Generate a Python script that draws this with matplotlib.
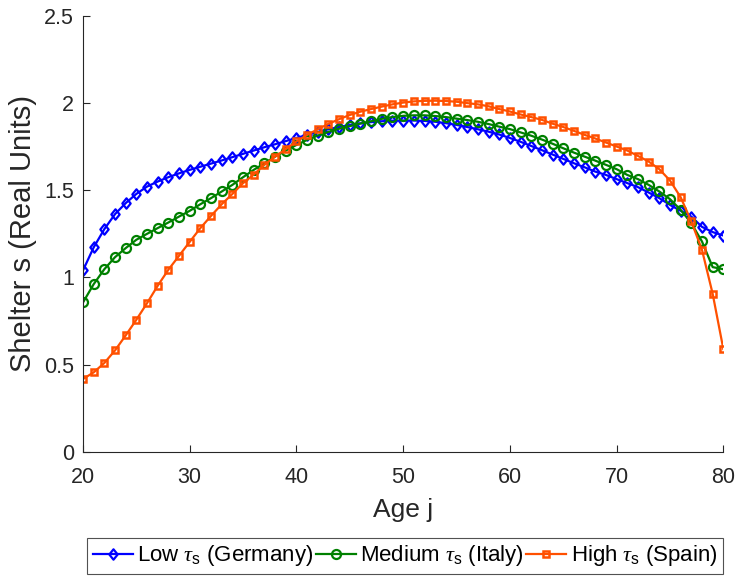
import matplotlib
matplotlib.use("Agg")
import matplotlib.pyplot as plt
from matplotlib.path import Path
import numpy as np

plt.rcParams['font.family'] = ['Liberation Sans', 'DejaVu Sans']
plt.rcParams['mathtext.fontset'] = 'custom'
plt.rcParams['mathtext.rm'] = 'Liberation Sans'
plt.rcParams['mathtext.it'] = 'Liberation Serif:italic'
plt.rcParams['mathtext.sf'] = 'Liberation Sans'

ages = list(range(20, 81))

germany = [1.040, 1.172, 1.277, 1.363, 1.426, 1.479, 1.521, 1.550, 1.575, 1.597,
           1.617, 1.635, 1.653, 1.671, 1.690, 1.709, 1.728, 1.747, 1.764, 1.782,
           1.800, 1.818, 1.834, 1.850, 1.863, 1.875, 1.884, 1.891, 1.896, 1.899,
           1.900, 1.900, 1.898, 1.893, 1.885, 1.875, 1.863, 1.850, 1.836, 1.820,
           1.800, 1.778, 1.754, 1.730, 1.705, 1.680, 1.655, 1.632, 1.607, 1.588,
           1.564, 1.541, 1.518, 1.487, 1.455, 1.416, 1.382, 1.349, 1.290, 1.260,
           1.240]

italy = [0.856, 0.961, 1.047, 1.116, 1.168, 1.216, 1.250, 1.283, 1.315, 1.349,
         1.382, 1.420, 1.455, 1.493, 1.531, 1.575, 1.617, 1.655, 1.693, 1.728,
         1.760, 1.789, 1.814, 1.835, 1.853, 1.868, 1.883, 1.896, 1.910, 1.920,
         1.927, 1.930, 1.930, 1.926, 1.920, 1.911, 1.903, 1.893, 1.880, 1.865,
         1.851, 1.832, 1.813, 1.791, 1.767, 1.741, 1.716, 1.693, 1.670, 1.646,
         1.621, 1.588, 1.564, 1.531, 1.493, 1.449, 1.388, 1.311, 1.206, 1.059,
         1.047]

spain = [0.417, 0.455, 0.509, 0.581, 0.667, 0.757, 0.852, 0.952, 1.044, 1.124,
         1.204, 1.283, 1.353, 1.420, 1.479, 1.541, 1.590, 1.646, 1.693, 1.736,
         1.780, 1.818, 1.850, 1.881, 1.908, 1.932, 1.951, 1.966, 1.980, 1.993,
         2.003, 2.010, 2.013, 2.014, 2.012, 2.008, 2.000, 1.993, 1.982, 1.966,
         1.952, 1.935, 1.920, 1.904, 1.882, 1.863, 1.841, 1.818, 1.797, 1.774,
         1.751, 1.728, 1.697, 1.665, 1.621, 1.556, 1.460, 1.321, 1.158, 0.906,
         0.589]

labels = [r'Low $\tau_{\mathrm{s}}$ (Germany)',
          r'Medium $\tau_{\mathrm{s}}$ (Italy)',
          r'High $\tau_{\mathrm{s}}$ (Spain)']

xticks = [20, 30, 40, 50, 60, 70, 80]
yticks = [0, 0.5, 1, 1.5, 2, 2.5]
yticklabels = ['0', '0.5', '1', '1.5', '2', '2.5']

# MATLAB-like diamond (slightly taller than wide)
diamond = Path([(0, 1), (0.8, 0), (0, -1), (-0.8, 0), (0, 1)],
               [Path.MOVETO, Path.LINETO, Path.LINETO, Path.LINETO, Path.CLOSEPOLY])

fig = plt.figure(figsize=(7.39, 5.77), dpi=100)
ax = fig.add_axes([0.1123, 0.2172, 0.8665, 0.7551])

ax.plot(ages, germany, color='#0000FF', lw=1.6, marker=diamond, ms=7.5,
        mfc='none', mew=1.6, label=labels[0])
ax.plot(ages, italy, color='#008000', lw=1.6, marker='o', ms=6.5,
        mfc='none', mew=1.6, label=labels[1])
ax.plot(ages, spain, color='#FF5000', lw=1.6, marker='s', ms=4.0,
        mfc='none', mew=1.8, label=labels[2])

ax.set_xlim(20, 80)
ax.set_ylim(0, 2.5)
ax.set_xticks(xticks)
ax.set_yticks(yticks)
ax.set_yticklabels(yticklabels)

for s in ['top', 'right']:
    ax.spines[s].set_visible(False)
for s in ['left', 'bottom']:
    ax.spines[s].set_color('#262626')
    ax.spines[s].set_linewidth(0.8)
ax.tick_params(direction='in', length=5, width=0.8, colors='#262626',
               labelsize=15.5)
ax.tick_params(axis='x', pad=11)
ax.tick_params(axis='y', pad=6.5)

ax.set_xlabel('Age j', fontsize=19, color='#262626', labelpad=7)
ax.set_ylabel('Shelter s (Real Units)', fontsize=21, color='#262626', labelpad=5)

leg = fig.legend(loc='center', bbox_to_anchor=(405 / 739, 1 - 556 / 577),
                 ncol=3, fontsize=16, frameon=True, fancybox=False,
                 handlelength=1.8, handletextpad=0.2, columnspacing=0.1,
                 borderpad=0.25, borderaxespad=0)
leg.get_frame().set_edgecolor('#262626')
leg.get_frame().set_linewidth(0.8)

fig.savefig('out.png', dpi=100)
